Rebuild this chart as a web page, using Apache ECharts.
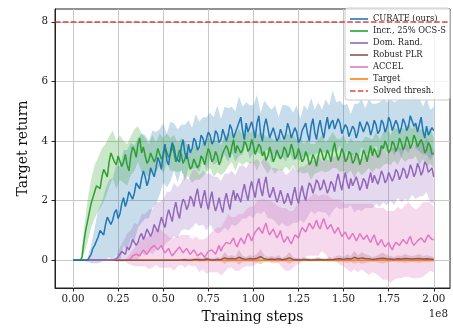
<!DOCTYPE html>
<html><head><meta charset="utf-8">
<script src="https://cdn.jsdelivr.net/npm/echarts@6/dist/echarts.min.js"></script>
<style>html,body{margin:0;padding:0;background:#fff}#c{width:453px;height:329px}</style>
</head><body><div id="c"></div>
<script>
// Training steps, in millions (fine grid for the mean curves, coarse grid for the bands)
const STEPS_FINE_M = [0,1,2,3,4,5,6,7,8,9,10,11,12,13,14,15,16,17,18,19,20,21,22,23,24,25,26,27,28,29,30,31,32,33,34,35,36,37,38,39,40,41,42,43,44,45,46,47,48,49,50,51,52,53,54,55,56,57,58,59,60,61,62,63,64,65,66,67,68,69,70,71,72,73,74,75,76,77,78,79,80,81,82,83,84,85,86,87,88,89,90,91,92,93,94,95,96,97,98,99,100,101,102,103,104,105,106,107,108,109,110,111,112,113,114,115,116,117,118,119,120,121,122,123,124,125,126,127,128,129,130,131,132,133,134,135,136,137,138,139,140,141,142,143,144,145,146,147,148,149,150,151,152,153,154,155,156,157,158,159,160,161,162,163,164,165,166,167,168,169,170,171,172,173,174,175,176,177,178,179,180,181,182,183,184,185,186,187,188,189,190,191,192,193,194,195,196,197,198,199,200];
const STEPS_M = [0,2,4,6,8,10,12,14,16,18,20,22,24,26,28,30,32,34,36,38,40,42,44,46,48,50,52,54,56,58,60,62,64,66,68,70,72,74,76,78,80,82,84,86,88,90,92,94,96,98,100,102,104,106,108,110,112,114,116,118,120,122,124,126,128,130,132,134,136,138,140,142,144,146,148,150,152,154,156,158,160,162,164,166,168,170,172,174,176,178,180,182,184,186,188,190,192,194,196,198,200];

// Mean returns (fine grid)
const CURATE_MEAN = [0,0,0,0,0,0,0,0,0,0.05,
 0.2,0.4,0.5,0.55,0.8,1.0,0.95,0.85,1.2,1.45,
 1.4,1.2,1.35,1.6,1.7,1.4,1.55,1.9,2.1,1.8,
 2.0,2.3,2.35,2.05,2.25,2.6,2.6,2.4,2.75,3.0,
 2.8,2.5,2.7,3.1,3.05,2.8,3.1,3.45,3.3,3.05,
 3.6,3.9,3.35,3.2,3.65,3.95,3.8,3.45,3.5,3.3,
 3.8,4.05,3.6,3.4,3.9,3.6,3.75,4.1,4.0,3.7,
 3.8,4.2,4.1,3.85,3.9,4.3,4.2,3.9,4.0,4.35,
 4.25,3.95,4.05,4.4,4.35,4.0,4.2,4.55,4.4,4.1,
 4.15,4.45,4.5,4.8,4.35,4.05,4.6,4.3,4.3,4.65,
 4.4,4.1,4.6,4.85,4.25,4.0,4.5,4.75,4.45,4.1,
 4.15,4.45,4.4,4.0,4.1,4.4,4.35,4.05,4.25,4.6,
 4.4,4.1,4.15,4.45,4.3,3.95,4.05,4.35,4.35,4.6,
 4.25,4.0,4.5,4.75,4.3,4.05,4.45,4.7,4.35,4.1,
 4.5,4.8,4.4,4.6,4.7,4.4,4.45,4.75,4.6,4.25,
 4.3,4.55,4.45,4.15,4.2,4.5,4.4,4.1,4.3,4.65,
 4.6,4.3,4.35,4.65,4.5,4.2,4.4,4.7,4.55,4.25,
 4.35,4.7,4.6,4.3,4.45,4.8,4.65,4.35,4.4,4.7,
 4.55,4.25,4.45,4.75,4.6,4.35,4.5,4.85,4.8,4.5,
 4.6,4.3,4.55,4.8,4.35,4.1,4.5,4.2,4.2,4.45,
 4.35];
const INCR_MEAN = [0,0,0,0,0,0.1,0.6,1.0,1.3,1.6,
 1.9,2.1,2.3,2.5,2.55,2.4,2.8,3.05,3.0,2.8,
 3.3,3.6,3.55,3.3,3.2,3.5,3.45,3.15,3.3,3.55,
 3.2,3.0,3.5,3.8,3.7,3.45,3.9,4.1,3.6,3.8,
 3.5,3.25,3.35,3.6,3.6,3.3,3.45,3.75,3.7,3.4,
 3.5,3.8,3.75,3.45,3.55,3.85,3.6,3.3,3.45,3.7,
 3.55,3.25,3.4,3.6,3.3,3.05,3.15,3.4,3.35,3.1,
 3.2,3.5,3.4,3.2,3.5,3.75,3.6,3.3,3.4,3.65,
 3.5,3.2,3.35,3.6,3.55,3.85,3.7,3.45,3.8,4.05,
 3.6,3.85,3.85,3.6,3.7,4.0,3.9,3.65,3.75,4.05,
 3.85,3.55,3.6,3.9,3.8,3.5,3.65,3.35,3.5,3.8,
 3.6,3.3,3.45,3.7,3.65,3.4,3.5,3.8,3.7,3.45,
 3.6,3.9,3.7,3.4,3.5,3.75,3.55,3.3,3.4,3.65,
 3.5,3.2,3.3,3.55,3.4,3.15,3.5,3.75,3.6,3.35,
 3.45,3.7,3.55,3.3,3.7,3.95,3.6,3.35,3.5,3.75,
 3.6,3.3,3.4,3.65,3.55,3.25,3.35,3.6,3.5,3.2,
 3.4,3.7,3.55,3.3,3.6,3.85,3.5,3.75,3.7,3.45,
 3.55,3.85,3.75,4.0,3.85,3.6,3.7,4.0,3.9,3.65,
 3.8,4.1,3.95,3.7,3.85,4.15,4.0,3.75,3.9,4.2,
 4.05,3.8,3.8,4.05,3.9,3.6,3.7,3.95,3.85,3.55,
 3.6];
const DR_MEAN = [0,0,0,0,0,0,0,0,0,0,
 0,0,0,0,0,0,0,0,0,0,
 0,0,0,0.02,0.05,0.12,0.2,0.3,0.3,0.2,
 0.45,0.35,0.5,0.7,0.65,0.5,0.6,0.8,0.9,0.7,
 0.85,1.05,1.0,0.8,0.95,1.2,1.15,0.95,1.2,1.45,
 1.25,1.1,1.45,1.7,1.5,1.3,1.7,1.95,1.6,1.4,
 1.8,2.05,1.95,1.7,1.85,2.15,2.05,1.8,2.15,2.4,
 2.0,1.75,2.1,2.35,1.95,1.7,2.05,2.3,1.9,1.65,
 1.85,2.1,1.8,1.6,2.0,2.25,1.95,1.7,2.1,2.35,
 2.0,2.25,2.2,1.95,2.3,2.55,2.25,2.0,2.4,2.65,
 2.35,2.1,2.5,2.75,2.4,2.15,2.55,2.8,2.35,2.1,
 2.25,2.45,2.2,1.95,2.1,2.35,2.15,1.9,2.0,2.25,
 2.05,1.85,2.2,2.45,2.1,1.9,2.25,2.5,2.2,2.0,
 2.35,2.6,2.5,2.25,2.45,2.7,2.6,2.35,2.45,2.7,
 2.5,2.25,2.4,2.65,2.55,2.3,2.65,2.9,2.6,2.35,
 2.7,2.95,2.6,2.4,2.75,2.5,2.55,2.8,2.6,2.35,
 2.5,2.75,2.65,2.4,2.7,2.95,2.6,2.85,2.8,2.55,
 2.75,3.0,2.85,2.6,2.7,2.95,2.9,2.65,2.8,3.05,
 2.95,2.7,2.85,3.1,3.0,2.75,2.9,3.2,3.05,2.8,
 2.95,3.25,3.1,2.85,3.0,3.3,3.2,2.95,2.9,3.1,
 2.8];
const ACCEL_MEAN = [0,0,0,0,0,0,0,0,0,0,
 0,0,0,0,0,0,0,0,0,0,
 0,0,0,0,0,0,0,0,0,0,
 0,0.02,0.05,0.15,0.1,0.2,0.2,0.15,0.25,0.35,
 0.3,0.2,0.25,0.4,0.35,0.5,0.45,0.35,0.4,0.5,
 0.35,0.25,0.3,0.4,0.25,0.15,0.2,0.3,0.3,0.45,
 0.35,0.25,0.3,0.4,0.35,0.2,0.25,0.35,0.3,0.15,
 0.15,0.25,0.2,0.1,0.15,0.3,0.25,0.35,0.3,0.2,
 0.35,0.5,0.3,0.45,0.45,0.6,0.65,0.55,0.6,0.75,
 0.55,0.45,0.6,0.75,0.65,0.55,0.75,0.9,0.8,0.65,
 0.8,0.95,0.95,1.1,1.05,0.9,1.1,1.25,1.0,0.85,
 0.95,1.05,0.9,0.75,0.85,1.0,0.75,0.6,0.7,0.8,
 0.65,0.55,0.7,0.85,0.85,0.75,0.95,1.1,1.05,0.95,
 1.1,1.25,1.15,1.05,1.2,1.35,1.15,1.05,1.25,1.4,
 1.2,1.05,1.1,1.2,1.05,0.9,1.0,1.1,0.95,0.8,
 0.85,0.95,0.8,0.7,0.75,0.9,0.8,0.65,0.75,0.9,
 0.8,0.7,0.75,0.85,0.7,0.6,0.75,0.85,0.65,0.5,
 0.6,0.7,0.55,0.45,0.5,0.6,0.45,0.35,0.5,0.6,
 0.6,0.5,0.55,0.7,0.65,0.55,0.7,0.8,0.6,0.5,
 0.55,0.65,0.6,0.75,0.7,0.6,0.75,0.85,0.8,0.7,
 0.7];
// Robust PLR mean (coarse grid)
const PLR_MEAN = [0,0,0,0,0,0,0,0,0,0,
 0,0,0,0,0,0,0,0,0,0,
 0,0,0,0,0,0,0,0,0,0,
 0.01,0.02,0,0.01,0.03,0.02,0.01,0.04,0.02,0.01,
 0.03,0.02,0.08,0.04,0.06,0.04,0.1,0.05,0.03,0.06,
 0.04,0.07,0.12,0.05,0.03,0.04,0.03,0.05,0.02,0.04,
 0.08,0.03,0.02,0.01,0.03,0.02,0.01,0.02,0.03,0.02,
 0.01,0.03,0.02,0.04,0.05,0.03,0.06,0.04,0.1,0.05,
 0.08,0.06,0.05,0.03,0.04,0.06,0.07,0.05,0.04,0.03,
 0.05,0.04,0.06,0.05,0.04,0.05,0.06,0.04,0.05,0.04,
 0.03];

// Band half-widths (coarse grid)
const CURATE_SPREAD = [0,0,0,0.02,0.05,0.3,0.6,0.9,1.0,1.2,
 1.3,1.4,1.5,1.6,1.6,1.7,1.6,1.6,1.5,1.5,
 1.4,1.3,1.3,1.2,1.1,1.0,0.9,1.0,0.8,0.9,
 0.75,0.95,0.8,0.7,0.9,0.85,0.7,0.9,0.75,0.8,
 0.95,0.7,0.8,0.9,0.75,0.85,1.0,0.8,0.7,0.9,
 0.8,0.95,0.7,0.85,0.75,0.9,0.8,0.7,0.85,0.95,
 0.75,0.8,0.9,0.7,0.85,0.8,0.95,0.75,0.85,0.7,
 0.9,0.8,1.0,0.85,0.75,0.9,0.8,0.7,0.85,0.95,
 0.8,0.75,0.9,0.85,0.7,0.95,0.8,0.85,0.75,0.9,
 0.8,1.0,0.85,0.9,0.75,0.85,0.9,0.8,0.95,0.85,
 0.8];
const INCR_SPREAD = [0,0,0,0.4,0.7,0.8,0.9,0.9,0.95,0.9,
 0.85,0.8,0.8,0.75,0.7,0.7,0.65,0.7,0.6,0.65,
 0.6,0.55,0.6,0.5,0.55,0.6,0.5,0.55,0.6,0.5,
 0.55,0.6,0.5,0.55,0.65,0.5,0.6,0.55,0.5,0.6,
 0.55,0.5,0.6,0.55,0.5,0.6,0.55,0.5,0.6,0.5,
 0.55,0.6,0.5,0.55,0.6,0.5,0.55,0.6,0.5,0.55,
 0.6,0.5,0.55,0.6,0.5,0.55,0.6,0.5,0.55,0.6,
 0.5,0.55,0.6,0.5,0.55,0.6,0.5,0.55,0.6,0.5,
 0.55,0.6,0.5,0.55,0.6,0.5,0.55,0.6,0.5,0.55,
 0.6,0.5,0.55,0.6,0.5,0.55,0.6,0.5,0.55,0.6,
 0.5];
const DR_SPREAD = [0,0,0,0,0,0,0,0,0,0,
 0,0,0.1,0.25,0.35,0.45,0.5,0.6,0.6,0.65,
 0.7,0.7,0.75,0.8,0.75,0.8,0.85,0.8,0.9,0.85,
 0.8,0.9,0.85,0.95,0.9,0.85,0.9,0.95,0.85,0.9,
 0.95,0.85,0.9,0.95,0.9,0.85,0.95,0.9,0.85,0.9,
 0.95,0.9,0.85,0.9,0.95,0.85,0.9,0.95,0.9,0.85,
 0.9,0.95,0.85,0.9,0.95,0.9,0.85,0.9,0.95,0.85,
 0.9,0.95,0.9,0.85,0.9,0.95,0.85,0.9,0.95,0.9,
 0.85,0.9,0.95,0.85,0.9,0.95,0.9,0.85,0.9,0.95,
 0.85,0.9,0.95,0.9,0.85,0.9,0.95,0.85,0.9,0.95,
 0.9];
const PLR_SPREAD = [0,0,0,0,0,0,0,0,0,0,
 0,0,0,0,0,0,0,0,0,0,
 0.02,0.02,0.02,0.02,0.02,0.02,0.02,0.02,0.02,0.02,
 0.03,0.05,0.04,0.06,0.05,0.07,0.05,0.08,0.06,0.05,
 0.08,0.06,0.2,0.1,0.12,0.08,0.25,0.1,0.08,0.12,
 0.1,0.15,0.25,0.12,0.08,0.1,0.08,0.12,0.06,0.1,
 0.2,0.08,0.06,0.05,0.07,0.06,0.05,0.06,0.07,0.05,
 0.05,0.08,0.06,0.1,0.12,0.08,0.15,0.1,0.22,0.12,
 0.2,0.15,0.12,0.08,0.1,0.15,0.18,0.12,0.1,0.08,
 0.12,0.1,0.15,0.12,0.1,0.12,0.15,0.1,0.12,0.1,
 0.08];
const ACCEL_SPREAD = [0,0,0,0,0,0,0,0,0,0,
 0,0,0,0,0,0.1,0.2,0.3,0.4,0.45,
 0.5,0.55,0.6,0.6,0.65,0.6,0.55,0.5,0.55,0.5,
 0.5,0.55,0.5,0.45,0.5,0.55,0.5,0.6,0.65,0.7,
 0.75,0.8,0.85,0.9,0.85,0.9,0.95,0.9,0.95,1.0,
 1.0,1.05,1.0,0.95,1.0,1.05,1.0,0.95,1.0,1.05,
 1.0,0.95,1.0,1.05,1.0,0.95,1.0,1.05,1.0,0.95,
 1.0,1.05,1.0,1.05,1.1,1.05,1.1,1.15,1.1,1.15,
 1.1,1.15,1.2,1.15,1.1,1.15,1.2,1.15,1.2,1.15,
 1.2,1.15,1.2,1.25,1.2,1.15,1.2,1.25,1.2,1.15,
 1.1];

const TARGET_STEPS_M = [0, 200];
const TARGET_VALUES = [0, 0];
const SOLVED_THRESHOLD = 8;

const X_TICKS = [0, 25e6, 50e6, 75e6, 100e6, 125e6, 150e6, 175e6, 200e6];
const X_TICK_LABELS = ['0.00','0.25','0.50','0.75','1.00','1.25','1.50','1.75','2.00'];
const Y_TICKS = [0, 2, 4, 6, 8];
const Y_TICK_LABELS = ['0','2','4','6','8'];

const FONT = '"DejaVu Serif", serif';
const COLORS = {
  curate: '#1f77b4', incr: '#2ca02c', dr: '#9467bd', plr: '#8c564b',
  accel: '#e377c2', target: '#ff7f0e', thresh: 'rgba(214,39,40,0.85)'
};

const XF = STEPS_FINE_M.map(s => s * 1e6);
const XC = STEPS_M.map(s => s * 1e6);
// band centre on the coarse grid = the mean value at that same step
function centreOf(fineMean) { return XC.map(x => fineMean[XF.indexOf(x)]); }

function bandSeries(key, centre, spread, color, opacity) {
  const lo = centre.map((m, i) => m - spread[i]);
  const hi = centre.map((m, i) => m + spread[i]);
  return {
    name: key + '_band', type: 'custom', silent: true, z: 1, animation: false, clip: true,
    data: XC.map((x, i) => [x, lo[i], hi[i]]),
    encode: { x: 0, y: [1, 2] },
    renderItem: function (params, api) {
      if (params.dataIndex !== 0) return null;
      const pts = [];
      for (let i = 0; i < XC.length; i++) pts.push(api.coord([XC[i], hi[i]]));
      for (let i = XC.length - 1; i >= 0; i--) pts.push(api.coord([XC[i], lo[i]]));
      return { type: 'polygon', shape: { points: pts }, style: { fill: color, opacity: opacity } };
    }
  };
}
function lineSeries(name, xs, ys, color) {
  return { name: name, type: 'line', data: xs.map((x, i) => [x, ys[i]]),
    symbol: 'none', showSymbol: false, z: 3,
    lineStyle: { color: color, width: 1.5 }, itemStyle: { color: color }, animation: false };
}

const series = [
  bandSeries('curate', centreOf(CURATE_MEAN), CURATE_SPREAD, COLORS.curate, 0.25),
  bandSeries('incr', centreOf(INCR_MEAN), INCR_SPREAD, COLORS.incr, 0.25),
  bandSeries('dr', centreOf(DR_MEAN), DR_SPREAD, COLORS.dr, 0.25),
  bandSeries('plr', PLR_MEAN, PLR_SPREAD, COLORS.plr, 0.25),
  bandSeries('accel', centreOf(ACCEL_MEAN), ACCEL_SPREAD, COLORS.accel, 0.28),
  lineSeries('Target', TARGET_STEPS_M.map(s => s * 1e6), TARGET_VALUES, COLORS.target),
  lineSeries('ACCEL', XF, ACCEL_MEAN, COLORS.accel),
  lineSeries('Robust PLR', XC, PLR_MEAN, COLORS.plr),
  lineSeries('Dom. Rand.', XF, DR_MEAN, COLORS.dr),
  lineSeries('Incr., 25% OCS-S', XF, INCR_MEAN, COLORS.incr),
  lineSeries('CURATE (ours)', XF, CURATE_MEAN, COLORS.curate),
  { name: 'Solved thresh.', type: 'line', data: [], symbol: 'none', z: 3,
    lineStyle: { color: COLORS.thresh, width: 1.5, type: [5.5, 2.4] },
    itemStyle: { color: COLORS.thresh },
    markLine: { silent: true, symbol: 'none', animation: false,
      label: { show: false },
      lineStyle: { color: COLORS.thresh, width: 1.5, type: [5.5, 2.4] },
      data: [{ yAxis: SOLVED_THRESHOLD }] } }
];

const SOLID_ICON = 'path://M0,0H18V1.6H0Z';
const DASH_ICON = 'path://M0,0H5.5V1.6H0Z M7.9,0H13.4V1.6H7.9Z M15.8,0H18V1.6H15.8Z';
const LEGEND_NAMES = ['CURATE (ours)', 'Incr., 25% OCS-S', 'Dom. Rand.', 'Robust PLR', 'ACCEL', 'Target', 'Solved thresh.'];

const chart = echarts.init(document.getElementById('c'), null, { renderer: 'canvas' });
chart.setOption({
  animation: false,
  backgroundColor: '#fff',
  textStyle: { fontFamily: FONT },
  grid: { left: 55, top: 9, right: 3, bottom: 38, show: true, borderColor: '#222', borderWidth: 1, backgroundColor: 'transparent' },
  xAxis: {
    type: 'value', min: -10e6, max: 209e6, minInterval: 25e6, maxInterval: 25e6,
    axisLine: { show: true, onZero: false, lineStyle: { color: '#222', width: 1 } },
    axisTick: { show: true, customValues: X_TICKS, length: 3.5, lineStyle: { color: '#222' } },
    axisLabel: { customValues: X_TICKS, margin: 6, color: '#222', fontFamily: FONT, fontSize: 10.3,
      formatter: v => { const k = X_TICKS.indexOf(v); return k >= 0 ? X_TICK_LABELS[k] : ''; } },
    splitLine: { show: true, lineStyle: { color: '#c8c8c8', width: 1 } },
    name: 'Training steps', nameLocation: 'middle', nameGap: 22,
    nameTextStyle: { fontFamily: FONT, fontSize: 14, color: '#111' }
  },
  yAxis: {
    type: 'value', min: -0.93, max: 8.43, minInterval: 2, maxInterval: 2,
    axisLine: { show: true, onZero: false, lineStyle: { color: '#222', width: 1 } },
    axisTick: { show: true, customValues: Y_TICKS, length: 3.5, lineStyle: { color: '#222' } },
    axisLabel: { customValues: Y_TICKS, margin: 7, color: '#222', fontFamily: FONT, fontSize: 10.3,
      formatter: v => { const k = Y_TICKS.indexOf(v); return k >= 0 ? Y_TICK_LABELS[k] : ''; } },
    splitLine: { show: true, lineStyle: { color: '#c8c8c8', width: 1 } },
    name: 'Target return', nameLocation: 'middle', nameGap: 13,
    nameTextStyle: { fontFamily: FONT, fontSize: 14, color: '#111' }
  },
  legend: {
    orient: 'vertical', left: 345, top: 8,
    itemWidth: 18, itemHeight: 2, itemGap: 0,
    padding: [5, 4, 3, 5],
    backgroundColor: 'rgba(255,255,255,0.8)', borderColor: '#cccccc', borderWidth: 1, borderRadius: 3,
    textStyle: { fontFamily: FONT, fontSize: 8.3, color: '#222', lineHeight: 12 },
    data: LEGEND_NAMES.map(n => ({ name: n, icon: n === 'Solved thresh.' ? DASH_ICON : SOLID_ICON })),
    selectedMode: false
  },
  graphic: [{ type: 'text', right: 5, top: 309, silent: true,
    style: { text: '1e8', fontFamily: FONT, fontSize: 10.3, fill: '#222' } }],
  series: series
});
</script></body></html>
